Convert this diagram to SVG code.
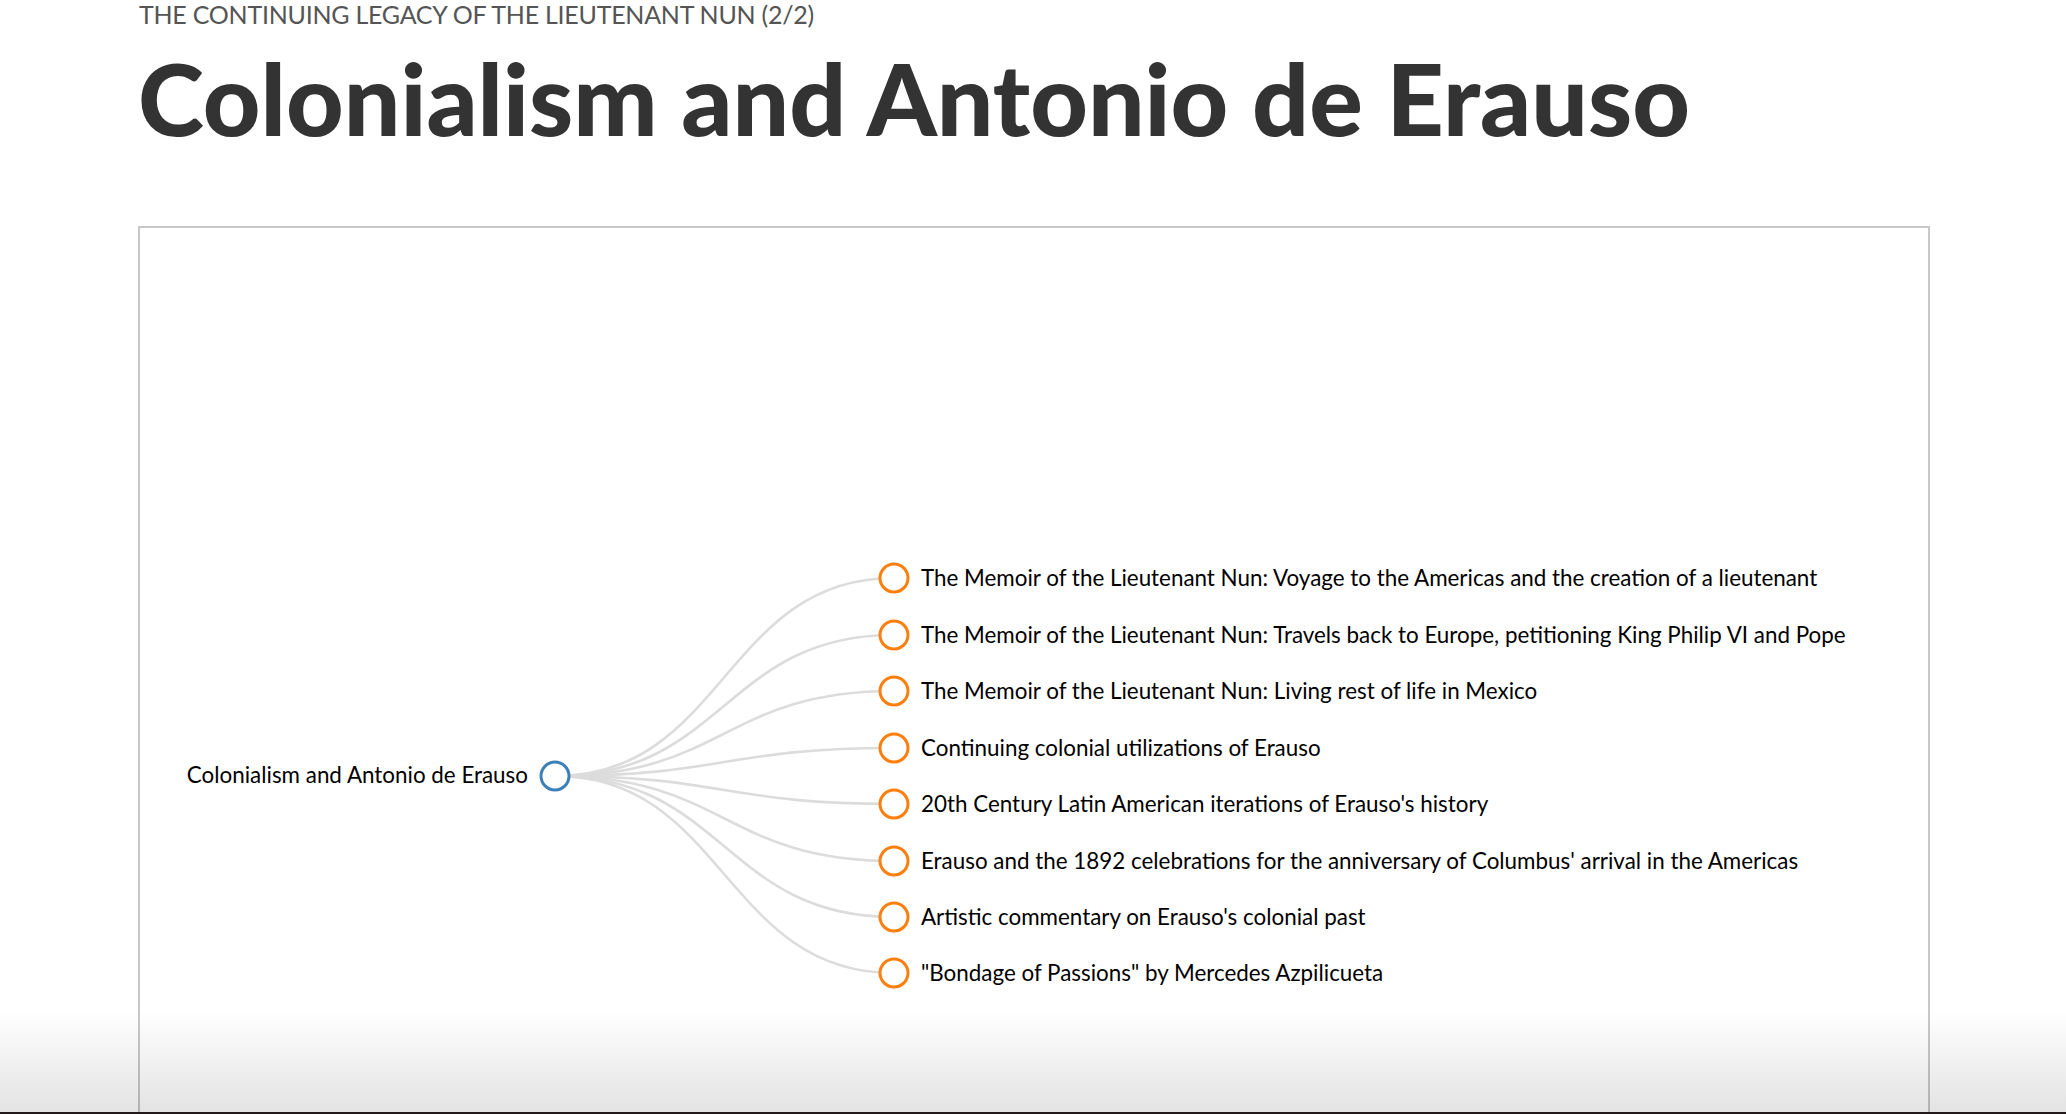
<svg xmlns="http://www.w3.org/2000/svg" width="2066" height="1114" viewBox="0 0 2066 1114">
<defs>
<style>
.sub{font-family:Lato,"Liberation Sans",sans-serif;font-size:25px;letter-spacing:-0.25px;fill:#555}
.title{font-family:Lato,"Liberation Sans",sans-serif;font-size:100px;font-weight:900;fill:#333}
.lbl{font-family:Lato,"Liberation Sans",sans-serif;font-size:22.4px;fill:#000}
.link{fill:none;stroke:#dcdcdc;stroke-width:2.6}
.root{fill:#fff;stroke:#3d7fb8;stroke-width:3}
.child{fill:#fff;stroke:#ff7f0e;stroke-width:3}
</style>
<linearGradient id="fade" x1="0" y1="0" x2="0" y2="1">
<stop offset="0" stop-color="#000" stop-opacity="0"/>
<stop offset="1" stop-color="#000" stop-opacity="0.11"/>
</linearGradient>
</defs>
<rect width="2066" height="1114" fill="#fff"/>
<text class="sub" x="139" y="24">THE CONTINUING LEGACY OF THE LIEUTENANT NUN (2/2)</text>
<text class="title" x="138" y="136">Colonialism and Antonio de Erauso</text>
<rect x="139" y="227" width="1790" height="900" fill="none" stroke="#c8c8c8" stroke-width="2"/>
<g id="links">
<path class="link" d="M555,776C724.5,776 724.5,578 894,578"/>
<path class="link" d="M555,776C724.5,776 724.5,635 894,635"/>
<path class="link" d="M555,776C724.5,776 724.5,691 894,691"/>
<path class="link" d="M555,776C724.5,776 724.5,748 894,748"/>
<path class="link" d="M555,776C724.5,776 724.5,804 894,804"/>
<path class="link" d="M555,776C724.5,776 724.5,861 894,861"/>
<path class="link" d="M555,776C724.5,776 724.5,917 894,917"/>
<path class="link" d="M555,776C724.5,776 724.5,973 894,973"/>
</g>
<g id="root"><circle class="root" cx="555" cy="776" r="14"/><text class="lbl" x="528" y="783" text-anchor="end">Colonialism and Antonio de Erauso</text></g>
<g id="c1"><circle class="child" cx="894" cy="578" r="14"/><text class="lbl" x="921" y="586">The Memoir of the Lieutenant Nun: Voyage to the Americas and the creation of a lieutenant</text></g>
<g id="c2"><circle class="child" cx="894" cy="635" r="14"/><text class="lbl" x="921" y="643">The Memoir of the Lieutenant Nun: Travels back to Europe, petitioning King Philip VI and Pope</text></g>
<g id="c3"><circle class="child" cx="894" cy="691" r="14"/><text class="lbl" x="921" y="699">The Memoir of the Lieutenant Nun: Living rest of life in Mexico</text></g>
<g id="c4"><circle class="child" cx="894" cy="748" r="14"/><text class="lbl" x="921" y="756">Continuing colonial utilizations of Erauso</text></g>
<g id="c5"><circle class="child" cx="894" cy="804" r="14"/><text class="lbl" x="921" y="812">20th Century Latin American iterations of Erauso's history</text></g>
<g id="c6"><circle class="child" cx="894" cy="861" r="14"/><text class="lbl" x="921" y="869">Erauso and the 1892 celebrations for the anniversary of Columbus' arrival in the Americas</text></g>
<g id="c7"><circle class="child" cx="894" cy="917" r="14"/><text class="lbl" x="921" y="925">Artistic commentary on Erauso's colonial past</text></g>
<g id="c8"><circle class="child" cx="894" cy="973" r="14"/><text class="lbl" x="921" y="981">"Bondage of Passions" by Mercedes Azpilicueta</text></g>
<rect x="0" y="1010" width="2066" height="102" fill="url(#fade)"/>
<rect x="0" y="1112" width="2066" height="2" fill="#221a1a"/>
</svg>
